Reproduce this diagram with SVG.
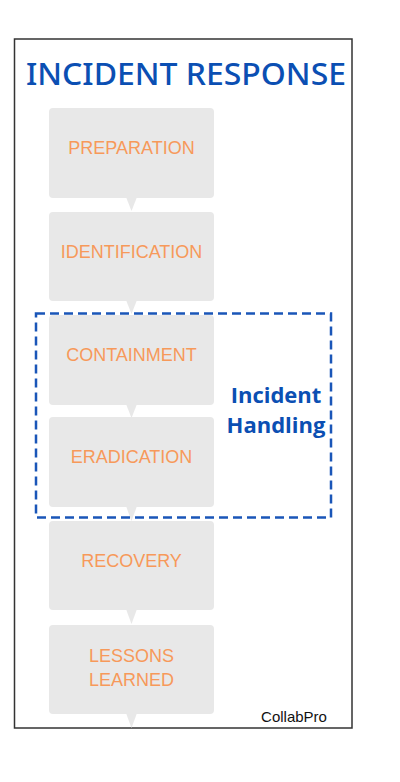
<svg xmlns="http://www.w3.org/2000/svg" width="400" height="782" viewBox="0 0 400 782">
<style>
.box{fill:#e8e8e8}
.lbl{font-family:"Liberation Sans",Arial,sans-serif;font-size:18px;fill:#f7995a;text-anchor:middle}
.ptr{fill:#e8e8e8}
</style>
<rect x="0" y="0" width="400" height="782" fill="#fff"/>
<rect x="14.5" y="39" width="337.5" height="689" fill="none" stroke="#333" stroke-width="1.5"/>
<text x="186" y="85" font-family="Noto Sans,Open Sans,sans-serif" font-size="31" font-weight="500" fill="#0b4fb3" text-anchor="middle" textLength="320" lengthAdjust="spacingAndGlyphs">INCIDENT RESPONSE</text>
<g id="connectors">
<polygon class="ptr" points="126,197 137,197 131.5,211"/>
<polygon class="ptr" points="126,300 137,300 131.5,314"/>
<polygon class="ptr" points="126,404 137,404 131.5,418"/>
<polygon class="ptr" points="126,506 137,506 131.5,521"/>
<polygon class="ptr" points="126,609 137,609 131.5,624"/>
<polygon class="ptr" points="126,713 137,713 131.5,728"/>
</g>
<g id="preparation"><rect class="box" x="49" y="108" width="165" height="90" rx="4"/><text class="lbl" x="131.5" y="154">PREPARATION</text></g>
<g id="identification"><rect class="box" x="49" y="212" width="165" height="89" rx="4"/><text class="lbl" x="131.5" y="257.5">IDENTIFICATION</text></g>
<g id="containment"><rect class="box" x="49" y="315" width="165" height="90" rx="4"/><text class="lbl" x="131.5" y="361">CONTAINMENT</text></g>
<g id="eradication"><rect class="box" x="49" y="417" width="165" height="90" rx="4"/><text class="lbl" x="131.5" y="463">ERADICATION</text></g>
<g id="recovery"><rect class="box" x="49" y="521" width="165" height="89" rx="4"/><text class="lbl" x="131.5" y="567">RECOVERY</text></g>
<g id="lessons"><rect class="box" x="49" y="625" width="165" height="89" rx="4"/><text class="lbl" x="131.5" y="662">LESSONS</text><text class="lbl" x="131.5" y="686">LEARNED</text></g>
<g id="incident-handling">
<rect x="36" y="313.5" width="295" height="204" fill="none" stroke="#1a56b8" stroke-width="2.5" stroke-dasharray="9,5"/>
<text font-family="Open Sans,Noto Sans,sans-serif" font-size="22" font-weight="bold" fill="#0b4fb3" text-anchor="middle"><tspan x="276" y="403">Incident</tspan><tspan x="276" y="433">Handling</tspan></text>
</g>
<text x="294" y="722" font-family="Liberation Sans,Arial,sans-serif" font-size="15" fill="#111" text-anchor="middle">CollabPro</text>
</svg>
